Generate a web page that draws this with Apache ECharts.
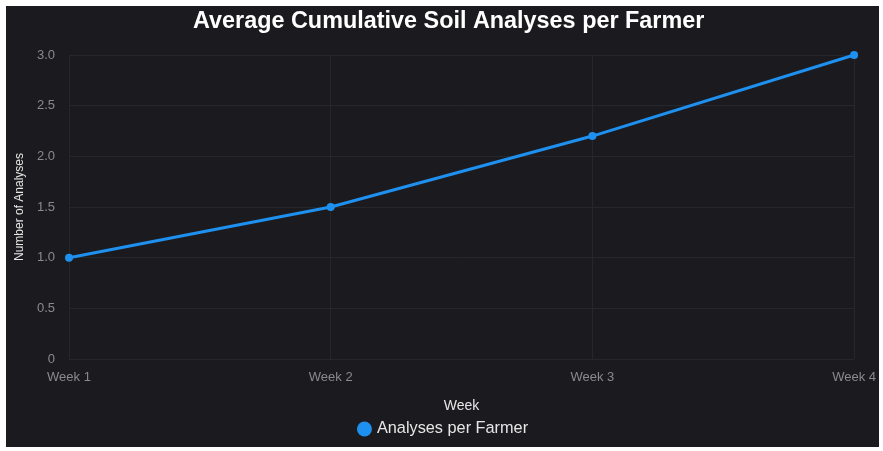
<!DOCTYPE html>
<html>
<head>
<meta charset="utf-8">
<script src="https://cdn.jsdelivr.net/npm/echarts@6/dist/echarts.min.js"></script>
<style>
  html, body { margin: 0; padding: 0; background: #fff; }
  #chart {
    position: absolute;
    left: 6px;
    top: 6px;
    width: 873px;
    height: 441px;
    background: #1b1b1f;
  }
</style>
</head>
<body>
<div id="chart"></div>
<script>
// chart data
const weeks = ['Week 1', 'Week 2', 'Week 3', 'Week 4']
const analysesPerFarmer = [1.0, 1.5, 2.2, 3.0]

const chart = echarts.init(document.getElementById('chart'))

const font = 'Liberation Sans, Arial, sans-serif'

const option = {
  backgroundColor: '#1b1b1f',
  title: {
    text: 'Average Cumulative Soil Analyses per Farmer',
    left: 182,
    top: -1,
    textStyle: {
      color: '#ffffff',
      fontSize: 23.4,
      fontWeight: 'bold',
      fontFamily: font
    }
  },
  legend: {
    bottom: 5,
    left: 'center',
    padding: [5, 0, 5, 6],
    icon: 'circle',
    itemWidth: 15,
    itemHeight: 15,
    itemGap: 8,
    textStyle: {
      color: '#e6e6e6',
      fontSize: 16.3,
      fontFamily: font
    }
  },
  grid: {
    left: 61,
    top: 49,
    width: 789,
    height: 304
  },
  xAxis: {
    type: 'category',
    data: weeks,
    boundaryGap: false,
    name: 'Week',
    nameLocation: 'middle',
    nameGap: 40,
    nameTextStyle: {
      color: '#e6e6e6',
      fontSize: 14,
      fontFamily: font
    },
    axisLine: { show: true, lineStyle: { color: '#26272b' } },
    axisTick: { show: false },
    axisLabel: {
      color: '#8a8a8e',
      fontSize: 13,
      margin: 12,
      fontFamily: font
    },
    splitLine: { show: true, lineStyle: { color: '#26272b' } }
  },
  yAxis: {
    type: 'value',
    min: 0,
    max: 3,
    interval: 0.5,
    name: 'Number of Analyses',
    nameLocation: 'middle',
    nameGap: 43,
    nameTextStyle: {
      color: '#e6e6e6',
      fontSize: 12,
      fontFamily: font
    },
    axisLine: { show: false },
    axisTick: { show: false },
    axisLabel: {
      color: '#8a8a8e',
      fontSize: 13,
      margin: 14,
      fontFamily: font,
      formatter: (v) => (v === 0 ? '0' : v.toFixed(1))
    },
    splitLine: { show: true, lineStyle: { color: '#26272b' } }
  },
  series: [{
    name: 'Analyses per Farmer',
    type: 'line',
    data: analysesPerFarmer,
    symbol: 'circle',
    symbolSize: 8,
    lineStyle: { color: '#1e90f0', width: 3 },
    itemStyle: { color: '#1e90f0' }
  }]
}

chart.setOption(option)
</script>
</body>
</html>
